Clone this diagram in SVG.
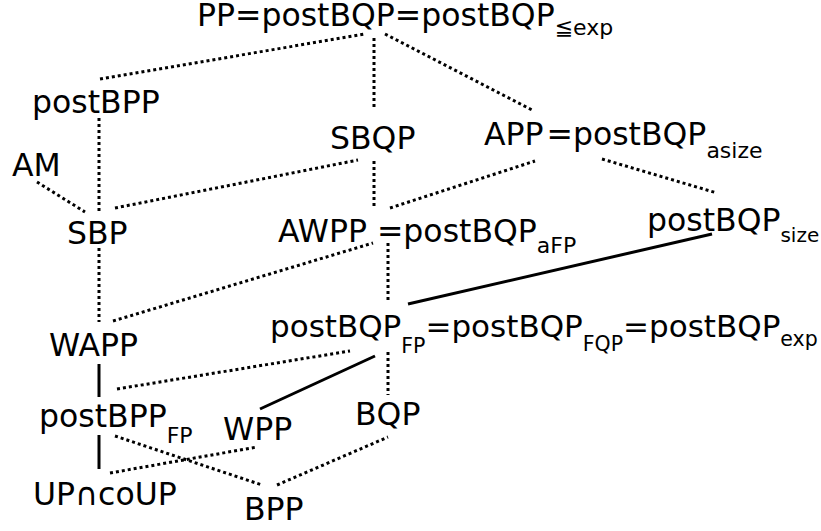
<svg xmlns="http://www.w3.org/2000/svg" width="821" height="531" viewBox="0 0 821 531">
<style>
text{font-family:"DejaVu Sans",sans-serif;font-size:31.5px;fill:#000}
.sub{font-size:22px}
.sub.sm{font-size:20px}
.line{font-size:31px}
.line .sub{font-size:20.5px}
.dot{stroke:#000;stroke-width:3;stroke-dasharray:3 3;fill:none}
.sol{stroke:#000;stroke-width:3;fill:none}
</style>
<rect width="821" height="531" fill="#fff"/>
<g id="connectors">
<line class="dot" x1="100" y1="79" x2="365" y2="34"/>
<line class="dot" x1="374" y1="38" x2="374" y2="108"/>
<line class="dot" x1="385" y1="34" x2="534" y2="111"/>
<line class="dot" x1="99" y1="118" x2="99" y2="212"/>
<line class="dot" x1="37" y1="182" x2="85" y2="212"/>
<line class="dot" x1="115" y1="208" x2="358" y2="160"/>
<line class="dot" x1="374" y1="161" x2="374" y2="208"/>
<line class="dot" x1="390" y1="208" x2="535" y2="161"/>
<line class="dot" x1="602" y1="159" x2="717" y2="193"/>
<line class="sol" x1="408" y1="304" x2="712" y2="234"/>
<line class="dot" x1="99" y1="248" x2="99" y2="322"/>
<line class="dot" x1="113" y1="321" x2="373" y2="243"/>
<line class="dot" x1="388" y1="243" x2="388" y2="302"/>
<line class="dot" x1="117" y1="389" x2="350" y2="351"/>
<line class="sol" x1="260" y1="409" x2="375" y2="356"/>
<line class="dot" x1="388" y1="352" x2="388" y2="395"/>
<line class="sol" x1="99" y1="364" x2="99" y2="397"/>
<line class="sol" x1="99" y1="435" x2="99" y2="469"/>
<line class="dot" x1="115" y1="436" x2="262" y2="485"/>
<line class="dot" x1="110" y1="473" x2="257" y2="447"/>
<line class="dot" x1="277" y1="485" x2="388" y2="437"/>
</g>
<g id="PP"><text x="197" y="26">PP=postBQP=postBQP<tspan class="sub" dy="9">≦exp</tspan></text></g>
<g id="postBPP"><text x="32" y="113">postBPP</text></g>
<g id="AM"><text x="12" y="176">AM</text></g>
<g id="SBQP"><text x="330" y="149">SBQP</text></g>
<g id="APP"><text x="484" y="145">APP<tspan dx="3">=postBQP</tspan><tspan class="sub" dy="13">asize</tspan></text></g>
<g id="SBP"><text x="67" y="244">SBP</text></g>
<g id="AWPP"><text x="278" y="242">AWPP =postBQP<tspan class="sub" dy="11">aFP</tspan></text></g>
<g id="postBQPsize"><text x="647" y="231">postBQP<tspan class="sub sm" dy="11">size</tspan></text></g>
<g id="postBQPFP"><text class="line" x="270" y="337">postBQP<tspan class="sub" dy="16">FP</tspan><tspan dy="-16">=postBQP</tspan><tspan class="sub" dy="14">FQP</tspan><tspan dy="-14">=postBQP</tspan><tspan class="sub" dy="9">exp</tspan></text></g>
<g id="WAPP"><text x="49" y="356">WAPP</text></g>
<g id="postBPPFP"><text x="39" y="427">postBPP<tspan class="sub" dy="16">FP</tspan></text></g>
<g id="WPP"><text x="223" y="440">WPP</text></g>
<g id="BQP"><text x="355" y="425">BQP</text></g>
<g id="UPcoUP"><text x="33" y="505">UP∩coUP</text></g>
<g id="BPP"><text x="244" y="520">BPP</text></g>
</svg>
